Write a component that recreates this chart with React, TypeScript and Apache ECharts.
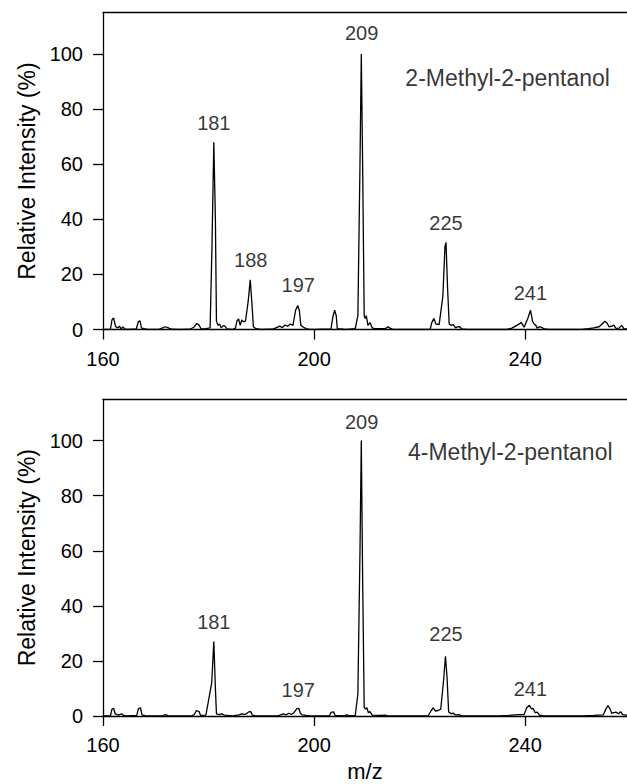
import React, { useEffect, useRef } from "react";
import * as echarts from "echarts";

// m/z axis
const xTicks = [160, 200, 240];
const yTicks = [0, 20, 40, 60, 80, 100];
const X_MIN = 160;
const X_MAX = 259.3;
const Y_MAX = 115;

// Spectrum of 2-Methyl-2-pentanol: [m/z, relative intensity %]
const spectrumTop: [number, number][] = [
  [160, 0], [161.4, 0], [161.7, 3.5], [162.0, 4.2], [162.4, 1.0], [162.8, 0.6], [163.1, 1.2], [163.4, 0.3], [163.8, 0.9], [164.1, 0.2], [164.6, 0],
  [166.3, 0.2], [166.7, 2.8], [167.0, 3.2], [167.3, 0.5], [167.8, 0.3], [168.3, 0.1], [170.5, 0], [171.3, 0.6], [171.8, 1.0], [172.4, 0.6], [173, 0.1],
  [174.5, 0], [176.5, 0.1], [177.2, 0.8], [177.8, 2.2], [178.2, 1.6], [178.6, 0.2], [179.5, 0.3], [180.3, 0.6], [180.65, 30], [181.0, 68], [181.3, 40],
  [181.5, 3], [181.8, 1.5], [182.1, 2.0], [182.4, 0.6], [182.8, 1.4], [183.1, 1.2], [183.5, 0.2], [184.5, 0], [185.1, 0.5], [185.4, 3.2], [185.7, 3.8],
  [186.0, 1.5], [186.3, 3.5], [186.6, 2.8], [187.0, 3.0], [187.5, 10], [187.9, 18], [188.2, 10], [188.5, 1], [189, 0.3], [190, 0],
  [192.3, 0.2], [193, 0.8], [193.5, 1.2], [194, 0.7], [194.5, 1.6], [195, 1.2], [195.5, 2.0], [196, 1.5], [196.5, 7], [196.9, 8.7], [197.2, 7],
  [197.5, 1.5], [198, 0.8], [198.5, 0.3], [199, 0.1], [200, 0], [203.2, 0.2], [203.6, 5], [203.9, 7], [204.2, 5], [204.4, 0.3], [206, 0],
  [207.8, 0.3], [208.3, 5], [208.7, 60], [208.95, 100], [209.2, 60], [209.5, 5], [209.7, 4], [209.9, 5], [210.2, 1.5], [210.6, 2.5], [211, 0.6],
  [211.5, 0.3], [213.5, 0.3], [214.0, 1.0], [214.4, 0.5], [215, 0], [222, 0], [222.3, 2.5], [222.7, 4.0], [223.1, 2.0], [223.7, 1.8], [224.4, 12],
  [224.8, 30], [225.0, 31.6], [225.3, 15], [225.6, 2], [226.0, 1.5], [226.4, 1.8], [226.8, 0.6], [227.2, 1.0], [227.6, 1.0], [228, 0.2], [229, 0],
  [236.5, 0], [237.5, 0.5], [238.5, 1.6], [239.3, 2.5], [239.8, 0.8], [240.5, 4], [241.0, 7], [241.4, 3], [241.7, 2], [242.0, 1.6], [242.3, 0.5],
  [242.7, 1.0], [243.2, 0.7], [243.6, 0.2], [244.5, 0], [249.5, 0], [251, 0.1], [252, 0.3], [253, 0.6], [254, 1.0], [254.6, 2], [255.1, 3],
  [255.5, 2.4], [255.9, 1.0], [256.4, 1.2], [256.8, 1.6], [257.2, 0.4], [257.8, 0.5], [258.3, 1.5], [258.7, 0.3], [259.3, 0.2],
];

// Spectrum of 4-Methyl-2-pentanol
const spectrumBottom: [number, number][] = [
  [160, 0], [161.4, 0], [161.7, 2.5], [162.0, 2.8], [162.3, 0.8], [162.7, 0.5], [163.0, 0.3], [163.5, 0.8], [163.9, 0.2], [164.5, 0],
  [166.4, 0.2], [166.7, 2.6], [167.1, 3.0], [167.4, 0.4], [168, 0.1], [171.3, 0], [171.8, 0.5], [172.3, 0.1], [176.7, 0], [177.3, 0.5],
  [177.7, 2.0], [178.2, 1.6], [178.5, 0.2], [179.5, 0.3], [180.6, 12], [181.0, 27], [181.3, 10], [181.5, 0.8], [182, 0.5], [182.5, 0.8],
  [183, 0.3], [184.5, 0], [185.8, 0.4], [186.3, 0.8], [186.8, 0.6], [187.2, 0.8], [187.6, 1.5], [188.0, 1.6], [188.3, 0.3], [189, 0],
  [193, 0], [193.5, 0.3], [194.2, 0.8], [194.7, 0.4], [195.2, 1.0], [195.7, 0.6], [196.2, 1.2], [196.7, 2.6], [197.1, 2.8], [197.4, 1.0],
  [197.8, 0.4], [198.5, 0.2], [199.3, 0], [202.9, 0], [203.2, 1.3], [203.7, 1.5], [204.0, 0.2], [205.5, 0], [206.3, 0.4], [206.7, 0],
  [207.8, 0.2], [208.3, 8], [208.7, 60], [208.95, 100], [209.2, 50], [209.5, 3], [209.8, 2.5], [210.0, 3], [210.3, 1.2], [210.6, 1.6],
  [211, 0.3], [212.5, 0.2], [213.5, 0.3], [214, 0], [221.6, 0], [222.2, 2], [222.6, 3], [223.0, 1.8], [223.5, 2], [224.0, 2.5],
  [224.5, 12], [224.9, 21.7], [225.2, 14], [225.5, 1.5], [225.9, 0.9], [226.4, 1.0], [226.8, 0.4], [227.5, 0.5], [228, 0], [235, 0],
  [237, 0.2], [238, 0.4], [239.2, 0.5], [239.8, 0.5], [240.3, 3], [240.8, 3.9], [241.2, 2.6], [241.5, 2.8], [241.9, 1.2], [242.3, 1.4],
  [242.7, 0.3], [243.5, 0], [251, 0], [253, 0.2], [254.8, 0.4], [255.3, 2.5], [255.7, 3.8], [256.1, 2.5], [256.4, 1.0], [256.8, 1.2],
  [257.2, 1.4], [257.7, 0.8], [258.1, 1.6], [258.5, 0.5], [259.3, 0.3],
];

// Peak labels: [m/z, label height (value units), text]
const peakLabelsTop: [number, number, string][] = [
  [181, 75, "181"], [188, 25.2, "188"], [197, 16.2, "197"], [209, 107.5, "209"], [225, 38.7, "225"], [241, 13.4, "241"],
];
const peakLabelsBottom: [number, number, string][] = [
  [181, 34, "181"], [197, 9.4, "197"], [209, 106.9, "209"], [225, 29.8, "225"], [241, 9.8, "241"],
];

// Compound names: [m/z of left edge, value of middle, text]
const compoundTop: [number, number, string] = [217.3, 91.3, "2-Methyl-2-pentanol"];
const compoundBottom: [number, number, string] = [217.8, 96.0, "4-Methyl-2-pentanol"];

const yName = "Relative Intensity (%)";
const xName = "m/z";

const FONT = "'Liberation Sans', Arial, Helvetica, sans-serif";
const INK = "#000";

function makeAxes(gridIndex: number, showName: boolean) {
  const x = {
    type: "value",
    gridIndex,
    min: X_MIN,
    max: X_MAX,
    position: "bottom",
    name: showName ? xName : "",
    nameLocation: "middle",
    nameGap: 44,
    nameTextStyle: { fontSize: 22, color: INK, fontFamily: FONT },
    axisLine: { show: true, onZero: false, lineStyle: { color: INK, width: 1.3 } },
    axisTick: { show: true, length: 10, lineStyle: { color: INK, width: 1.3 }, customValues: xTicks },
    axisLabel: { show: true, margin: 19, fontSize: 20, color: INK, fontFamily: FONT, customValues: xTicks },
    splitLine: { show: false },
  };
  const xTop = {
    type: "value",
    gridIndex,
    min: X_MIN,
    max: X_MAX,
    position: "top",
    axisLine: { show: true, onZero: false, lineStyle: { color: INK, width: 1.3 } },
    axisTick: { show: false },
    axisLabel: { show: false },
    splitLine: { show: false },
  };
  const y = {
    type: "value",
    gridIndex,
    min: 0,
    max: Y_MAX,
    name: yName,
    nameLocation: "middle",
    nameGap: 65,
    nameTextStyle: { fontSize: 23, color: INK, fontFamily: FONT },
    axisLine: { show: true, onZero: false, lineStyle: { color: INK, width: 1.3 } },
    axisTick: { show: true, length: 10, lineStyle: { color: INK, width: 1.3 }, customValues: yTicks },
    axisLabel: { show: true, margin: 20, fontSize: 20, color: INK, fontFamily: FONT, customValues: yTicks },
    splitLine: { show: false },
  };
  return { x, xTop, y };
}

export default function App() {
  const ref = useRef<HTMLDivElement>(null);
  useEffect(() => {
    if (!ref.current) return;
    const chart = echarts.init(ref.current, null, { renderer: "svg" });
    const a0 = makeAxes(0, false);
    const a1 = makeAxes(1, true);

    const labelSeries = (xi: number, yi: number, labels: [number, number, string][]) => ({
      type: "scatter",
      xAxisIndex: xi,
      yAxisIndex: yi,
      symbolSize: 1,
      itemStyle: { color: "rgba(0,0,0,0)" },
      silent: true,
      data: labels.map((l) => ({ value: [l[0], l[1]], name: l[2] })),
      label: {
        show: true,
        position: "inside",
        formatter: (p: any) => p.name,
        fontSize: 20,
        color: INK,
        fontFamily: FONT,
        align: "center",
        verticalAlign: "middle",
      },
    });
    const nameSeries = (xi: number, yi: number, c: [number, number, string]) => ({
      type: "scatter",
      xAxisIndex: xi,
      yAxisIndex: yi,
      symbolSize: 1,
      itemStyle: { color: "rgba(0,0,0,0)" },
      silent: true,
      data: [{ value: [c[0], c[1]], name: c[2] }],
      label: {
        show: true,
        position: "inside",
        formatter: (p: any) => p.name,
        fontSize: 23,
        color: INK,
        fontFamily: FONT,
        align: "left",
        verticalAlign: "middle",
      },
    });

    chart.setOption({
      animation: false,
      backgroundColor: "#fff",
      grid: [
        { left: 103, right: 0, top: 12.7, height: 316.8, outerBoundsMode: "none", containLabel: false },
        { left: 103, right: 0, top: 399.3, height: 316.7, outerBoundsMode: "none", containLabel: false },
      ],
      xAxis: [a0.x, a1.x, a0.xTop, a1.xTop].map((ax: any, i) => ({ ...ax, gridIndex: i % 2 })),
      yAxis: [a0.y, a1.y],
      series: [
        {
          type: "line",
          xAxisIndex: 0,
          yAxisIndex: 0,
          data: spectrumTop,
          symbol: "none",
          lineStyle: { color: "#000", width: 1.3 },
          clip: true,
          silent: true,
        },
        {
          type: "line",
          xAxisIndex: 1,
          yAxisIndex: 1,
          data: spectrumBottom,
          symbol: "none",
          lineStyle: { color: "#000", width: 1.3 },
          clip: true,
          silent: true,
        },
        labelSeries(0, 0, peakLabelsTop),
        labelSeries(1, 1, peakLabelsBottom),
        nameSeries(0, 0, compoundTop),
        nameSeries(1, 1, compoundBottom),
      ],
    });
    return () => chart.dispose();
  }, []);
  return (
    <div
      ref={ref}
      style={{ position: "fixed", left: 0, top: 0, width: 627, height: 784, background: "#fff" }}
    />
  );
}
